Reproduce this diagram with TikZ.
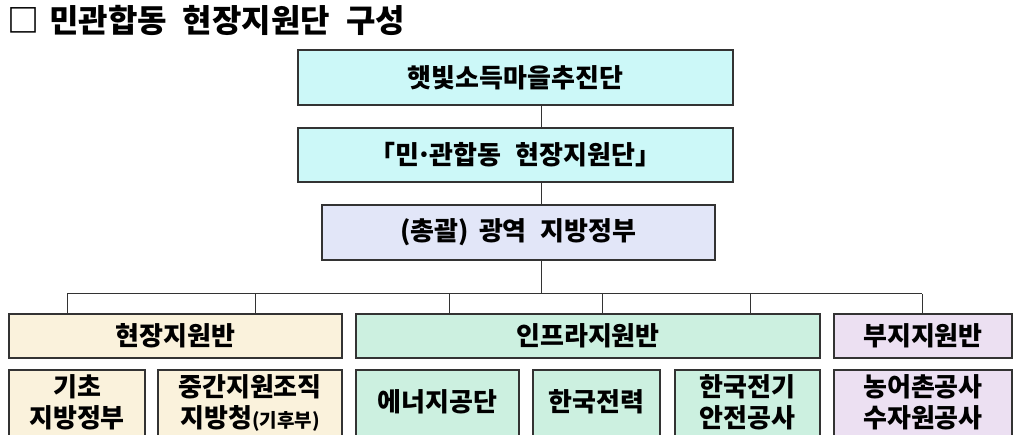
\documentclass[tikz,border=0pt]{standalone}
\usepackage{fontspec}
\setmainfont{Noto Sans CJK KR}
\definecolor{cyanfill}{HTML}{CCF8F8}
\definecolor{bluefill}{HTML}{E2E6F8}
\definecolor{creamfill}{HTML}{FAF2DC}
\definecolor{mintfill}{HTML}{CCF0E0}
\definecolor{lilacfill}{HTML}{ECE0F2}
\definecolor{edge}{HTML}{333333}
\tikzset{
  box/.style={draw=edge, line width=1.3pt, inner sep=0pt, align=center, font=\fontsize{26}{31}\selectfont\bfseries},
  link/.style={draw=edge, line width=1pt},
}
\begin{document}
\begin{tikzpicture}[x=1pt,y=-1pt]
\useasboundingbox (0,0) rectangle (1022,435);
\node[anchor=west, font=\fontsize{32}{34}\selectfont\bfseries, inner sep=0pt] (title) at (7,20) {□\hspace{10pt}민관합동\hspace{16pt}현장지원단\hspace{16pt}구성};
\node[box, fill=cyanfill, minimum width=435, minimum height=55] (top) at (515.5,77.5) {햇빛소득마을추진단};
\node[box, fill=cyanfill, minimum width=435, minimum height=54] (hq) at (515.5,155) {「민\kern-3pt·\kern-3pt 관합동\hspace{14pt}현장지원단」};
\node[box, fill=bluefill, minimum width=393, minimum height=55] (gov) at (518.5,232.5) {(총괄)\hspace{10pt}광역\hspace{14pt}지방정부};
\node[box, fill=creamfill, minimum width=333, minimum height=44] (g1) at (175.5,336) {현장지원반};
\node[box, fill=mintfill, minimum width=464, minimum height=44] (g2) at (588,336) {인프라지원반};
\node[box, fill=lilacfill, minimum width=178, minimum height=44] (g3) at (923,336) {부지지원반};
\tikzset{leaf/.style={box, minimum height=74, text depth=12pt}}
\node[leaf, fill=creamfill, minimum width=136] (b1) at (77,407) {기초\\지방정부};
\node[leaf, fill=creamfill, minimum width=184] (b2) at (250,407) {중간지원조직\\지방청{\fontsize{19}{22}\selectfont(기후부)}};
\node[leaf, fill=mintfill, minimum width=163] (b3) at (437.5,407) {에너지공단};
\node[leaf, fill=mintfill, minimum width=127] (b4) at (596.5,407) {한국전력};
\node[leaf, fill=mintfill, minimum width=145] (b5) at (747.5,407) {한국전기\\안전공사};
\node[leaf, fill=lilacfill, minimum width=178] (b6) at (923,407) {농어촌공사\\수자원공사};
\coordinate (spine) at (541,0);
\coordinate (bus) at (541,294);
\coordinate (d1) at (67,294);
\coordinate (d2) at (255,294);
\coordinate (d3) at (449,294);
\coordinate (d4) at (602,294);
\coordinate (d5) at (750,294);
\coordinate (d6) at (922,294);
\draw[link] (top.south -| spine) -- (hq.north -| spine);
\draw[link] (hq.south -| spine) -- (gov.north -| spine);
\draw[link] (gov.south -| spine) -- (bus);
\draw[link] (d1) -- (d6);
\draw[link] (d1) -- (d1 |- g1.north);
\draw[link] (d2) -- (d2 |- g1.north);
\draw[link] (d3) -- (d3 |- g2.north);
\draw[link] (d4) -- (d4 |- g2.north);
\draw[link] (d5) -- (d5 |- g2.north);
\draw[link] (d6) -- (d6 |- g3.north);
\end{tikzpicture}
\end{document}
